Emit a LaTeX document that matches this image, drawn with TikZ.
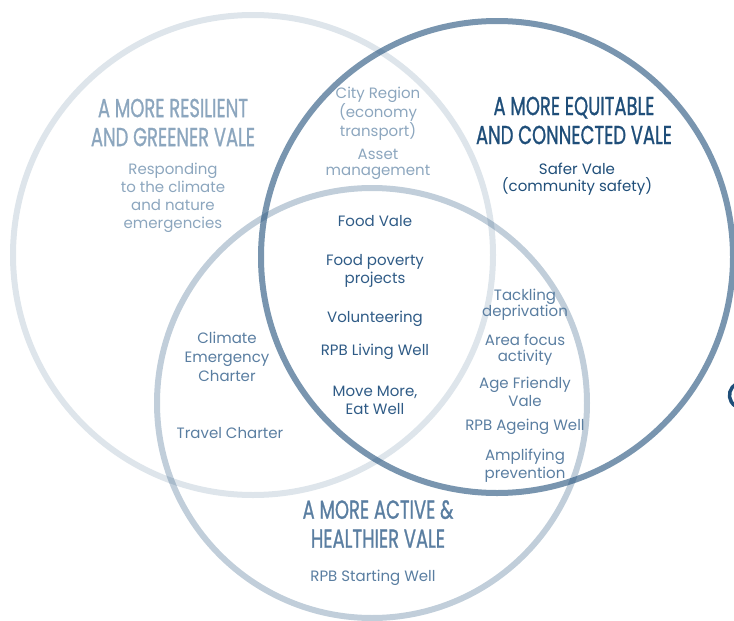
\documentclass[tikz,border=0pt]{standalone}
\usepackage{fontspec}
\setmainfont{Poppins}
\newfontfamily\valeheadfont{Poppins}[FakeBold=1.2]
\usepackage{graphicx}

\definecolor{valenavy}{HTML}{1F4E79}
\definecolor{valepale}{HTML}{8CA6BE}
\definecolor{valemid}{HTML}{5A7EA1}
\definecolor{valecentre}{HTML}{2F5B86}

\newcommand{\headline}[1]{\scalebox{0.69}[1]{#1}}

\begin{document}
\begin{tikzpicture}[x=1pt,y=-1pt]

\tikzset{
  ring/.style={
    line width=6pt,
    draw=valenavy,
  },
  head text/.style={
    inner sep=0pt,
    align=center,
    font=\valeheadfont\fontsize{26}{29}\selectfont,
  },
  body text/.style={
    inner sep=0pt,
    align=center,
    font=\fontsize{15}{18}\selectfont,
  }
}

\path[use as bounding box] (0,0) rectangle (734,621);
\clip (0,0) rectangle (734,621);

% The three rings
\draw[ring, draw opacity=0.15] (253,255) circle[radius=240pt];
\draw[ring, draw opacity=0.28] (372,403) circle[radius=215pt];
\draw[ring, draw opacity=0.6]  (497,257) circle[radius=236pt];

% Cut-off mark at the right edge
\draw[valenavy, line width=3.5pt] (736,384) arc[start angle=120, end angle=240, radius=13pt];

% Resilient and greener
\node[head text, text=valepale] (resTitle) at (173,122.5)
  {\headline{A MORE RESILIENT}\\\headline{AND GREENER VALE}};
\node[body text, text=valepale] (resText) at (173,198)
  {Responding\\to the climate\\and nature\\emergencies};

% Resilient + equitable
\node[body text, text=valepale, font=\fontsize{15}{16.5}\selectfont] (cityRegion) at (378,114)
  {City Region\\(economy\\transport)};
\node[body text, text=valepale, font=\fontsize{15}{16}\selectfont] (assetMgmt) at (378,164)
  {Asset\\management};

% Equitable and connected
\node[head text, text=valenavy] (eqTitle) at (574,120.5)
  {\headline{A MORE EQUITABLE}\\\headline{AND CONNECTED VALE}};
\node[body text, text=valenavy, font=\fontsize{15}{17}\selectfont] (saferVale) at (577,179.5)
  {Safer Vale\\(community safety)};

% All three
\node[body text, text=valecentre] (foodVale) at (375,221.5) {Food Vale};
\node[body text, text=valecentre] (foodPoverty) at (375,271) {Food poverty\\projects};
\node[body text, text=valecentre] (volunteering) at (375,318.5) {Volunteering};
\node[body text, text=valecentre] (livingWell) at (375,351.5) {RPB Living Well};
\node[body text, text=valecentre] (moveMore) at (375,400) {Move More,\\Eat Well};

% Resilient + active
\node[body text, text=valemid, font=\fontsize{15}{19}\selectfont] (climateCharter) at (227,357)
  {Climate\\Emergency\\Charter};
\node[body text, text=valemid] (travelCharter) at (230,433) {Travel Charter};

% Equitable + active
\node[body text, text=valemid, font=\fontsize{15}{16}\selectfont] (tackling) at (525,305) {Tackling\\deprivation};
\node[body text, text=valemid, font=\fontsize{15}{16}\selectfont] (areaFocus) at (525,349.5) {Area focus\\activity};
\node[body text, text=valemid] (ageFriendly) at (525,392) {Age Friendly\\Vale};
\node[body text, text=valemid] (ageingWell) at (525,426.5) {RPB Ageing Well};
\node[body text, text=valemid] (amplifying) at (525,466) {Amplifying\\prevention};

% Active and healthier
\node[head text, text=valemid] (actTitle) at (378,524)
  {\headline{A MORE ACTIVE \&}\\\headline{HEALTHIER VALE}};
\node[body text, text=valemid] (startingWell) at (373,578) {RPB Starting Well};

\end{tikzpicture}
\end{document}
